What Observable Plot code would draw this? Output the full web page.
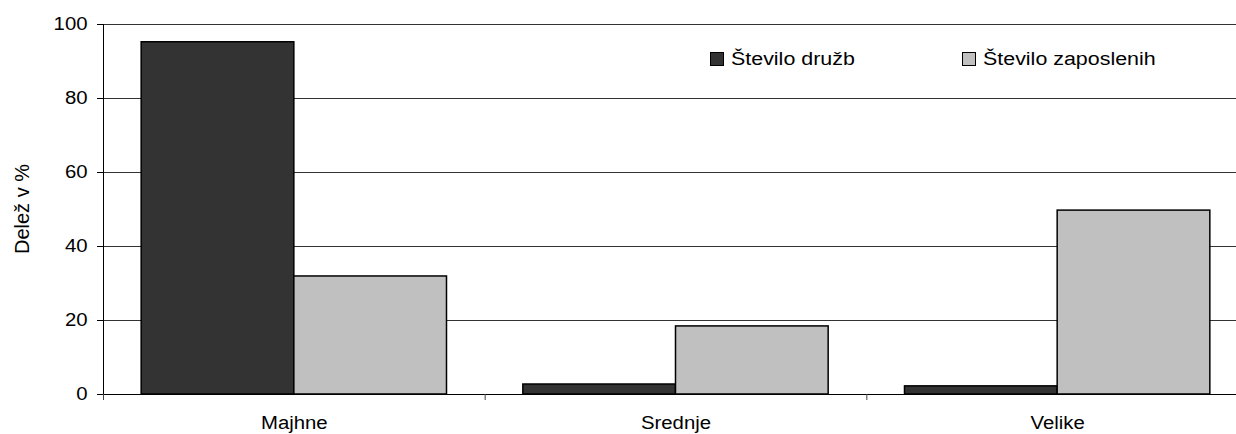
<!DOCTYPE html>
<html>
<head>
<meta charset="utf-8">
<script src="https://cdn.jsdelivr.net/npm/d3@7"></script>
<script src="https://cdn.jsdelivr.net/npm/@observablehq/plot@0.6"></script>
<style>
  html, body { margin: 0; padding: 0; background: #fff; overflow: hidden; }
  #wrap { position: relative; width: 1236px; height: 434px; overflow: hidden; font-family: "Liberation Sans", Arial, sans-serif; }
  #wrap svg { max-width: none !important; width: 1248px; height: 434px; display: block; }
  .sw { position: absolute; width: 12px; height: 12px; border: 1px solid #000; }
  .lt { position: absolute; font-size: 18px; line-height: 18px; color: #000; white-space: nowrap; transform-origin: left center; transform: scaleX(1.19); }
  .yl { position: absolute; left: 22px; top: 209px; font-size: 20px; line-height: 20px; color: #000; white-space: nowrap; transform: translate(-50%, -50%) rotate(-90deg); }
</style>
</head>
<body>
<div id="wrap"></div>
<script>
// Data
const categories = ["Majhne", "Srednje", "Velike"];
const seriesNames = ["Število družb", "Število zaposlenih"];
const druzbe = [95.2, 2.7, 2.2];
const zaposleni = [31.9, 18.4, 49.7];
const yTicks = [0, 20, 40, 60, 80, 100];
const yLabel = "Delež v %";
const colors = ["#333333", "#c0c0c0"];

const seriesValues = [druzbe, zaposleni];
const rows = [];
categories.forEach((c, i) => {
  seriesValues.forEach((vals, s) => {
    rows.push({cat: c, series: seriesNames[s], value: vals[i], i, s});
  });
});

const chart = Plot.plot({
  width: 1248,
  height: 434,
  marginLeft: 103,
  marginRight: 0,
  marginTop: 24,
  marginBottom: 40,
  style: {fontFamily: "'Liberation Sans', Arial, sans-serif", fontSize: "18px", color: "#000", background: "#fff", maxWidth: "none"},
  x: {domain: [0, categories.length], axis: null},
  y: {domain: [0, 100], axis: null},
  color: {domain: seriesNames, range: colors},
  marks: [
    Plot.ruleY(yTicks.filter(d => d > 0), {stroke: "#333", strokeWidth: 1}),
    Plot.rectY(rows, {
      x1: d => d.i + 0.1 + 0.4 * d.s,
      x2: d => d.i + 0.5 + 0.4 * d.s,
      y: "value",
      fill: "series",
      stroke: "#000",
      strokeWidth: 1.5
    }),
    Plot.ruleY([0], {stroke: "#000", strokeWidth: 1}),
    Plot.ruleX([0], {y1: 0, y2: 100, stroke: "#000", strokeWidth: 1}),
    Plot.axisY({ticks: yTicks, tickSize: 6, tickPadding: 10, label: null, fontSize: 18, stroke: "#000"}),
    Plot.axisX({ticks: d3.range(categories.length + 1), tickSize: 6, tickFormat: () => "", label: null, stroke: "#444"}),
    Plot.axisX({ticks: categories.map((c, i) => i + 0.5), tickSize: 0, tickPadding: 22, tickFormat: d => categories[Math.floor(d)], label: null, fontSize: 18})
  ]
});

const wrap = document.getElementById("wrap");
wrap.appendChild(chart);

// horizontal stretch of tick labels to match the reference's wide lettering
chart.querySelectorAll("g[aria-label='y-axis tick label'] text, g[aria-label='x-axis tick label'] text").forEach(t => {
  const len = t.getComputedTextLength();
  if (len > 0) {
    t.setAttribute("textLength", (len * 1.13).toFixed(2));
    t.setAttribute("lengthAdjust", "spacingAndGlyphs");
  }
});

// Y axis title
const yl = document.createElement("div");
yl.className = "yl";
yl.textContent = yLabel;
wrap.appendChild(yl);

// Legend
const legendX = [710, 962];
seriesNames.forEach((name, k) => {
  const sw = document.createElement("div");
  sw.className = "sw";
  sw.style.left = legendX[k] + "px";
  sw.style.top = "52px";
  sw.style.background = colors[k];
  wrap.appendChild(sw);
  const lt = document.createElement("div");
  lt.className = "lt";
  lt.style.left = (legendX[k] + 21) + "px";
  lt.style.top = "50px";
  lt.textContent = name;
  wrap.appendChild(lt);
});
</script>
</body>
</html>
